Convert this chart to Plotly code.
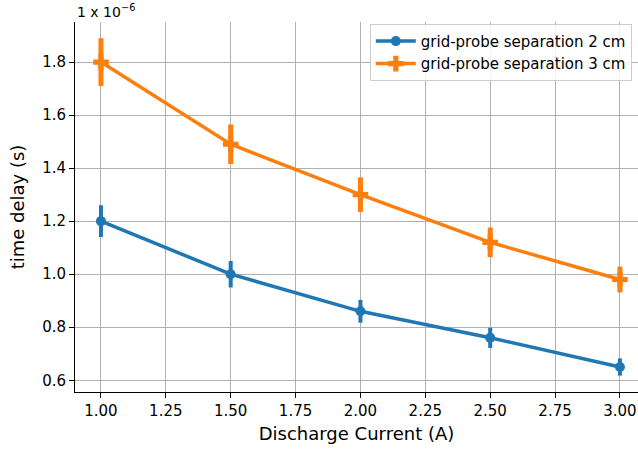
import plotly.graph_objects as go

current = [1.0, 1.5, 2.0, 2.5, 3.0]
delay_2cm = [1.20, 1.00, 0.86, 0.76, 0.65]
err_2cm = [0.060, 0.050, 0.043, 0.038, 0.0325]
delay_3cm = [1.80, 1.49, 1.30, 1.12, 0.98]
err_3cm = [0.090, 0.0745, 0.065, 0.056, 0.049]

FONT = "DejaVu Sans"
fig = go.Figure()
fig.add_trace(go.Scatter(
    x=current, y=delay_2cm, mode="lines+markers",
    name="grid-probe separation 2 cm",
    line=dict(color="#1f77b4", width=3.5),
    marker=dict(symbol="circle", size=10, color="#1f77b4"),
    error_y=dict(type="data", array=err_2cm, color="#1f77b4", thickness=4, width=0),
))
fig.add_trace(go.Scatter(
    x=current, y=delay_3cm, mode="lines+markers",
    name="grid-probe separation 3 cm",
    line=dict(color="#ff7f0e", width=3.5),
    marker=dict(symbol="cross", size=13, color="#ff7f0e"),
    error_y=dict(type="data", array=err_3cm, color="#ff7f0e", thickness=5, width=0),
))

axis_common = dict(
    showgrid=True, gridcolor="#b0b0b0", gridwidth=1,
    showline=True, linecolor="black", linewidth=1,
    ticks="outside", ticklen=5, tickcolor="black",
    tickfont=dict(family=FONT, size=15, color="black"),
    zeroline=False,
)
fig.update_xaxes(
    range=[0.9, 3.0696], dtick=0.25, tick0=1.0, tickformat=".2f",
    title=dict(text="Discharge Current (A)", font=dict(family=FONT, size=18, color="black"), standoff=8),
    mirror=False, **axis_common,
)
fig.update_yaxes(
    range=[0.5557, 1.951], dtick=0.2, tick0=0.6, tickformat=".1f",
    title=dict(text="time delay (s)", font=dict(family=FONT, size=18, color="black"), standoff=12),
    mirror=True, **axis_common,
)
fig.add_annotation(
    x=0, y=1, xref="paper", yref="paper", xanchor="left", yanchor="bottom",
    text="1 x 10<sup>−6</sup>", showarrow=False, yshift=0,
    font=dict(family=FONT, size=14, color="black"),
)
fig.update_layout(
    width=638, height=449,
    margin=dict(l=75, r=0, t=22, b=57),
    plot_bgcolor="white", paper_bgcolor="white",
    font=dict(family=FONT, color="black"),
    legend=dict(
        x=0.989, y=0.995, xanchor="right", yanchor="top",
        bgcolor="rgba(255,255,255,0.85)", bordercolor="#cccccc", borderwidth=1,
        font=dict(family=FONT, size=15, color="black"),
        tracegroupgap=0, itemwidth=40,
    ),
)
fig.write_html("out.html")
